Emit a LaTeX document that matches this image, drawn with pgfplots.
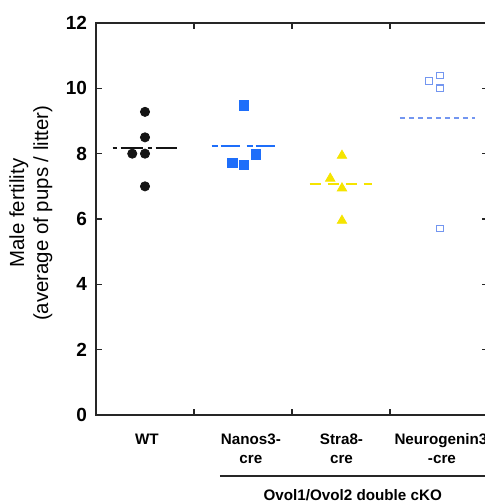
\documentclass[border=0pt]{standalone}
\usepackage{fontspec}
\setmainfont{Liberation Sans}
\usepackage{pgfplots}
\pgfplotsset{compat=1.18}

\definecolor{wtblack}{RGB}{20,20,20}
\definecolor{nanosblue}{RGB}{30,110,250}
\definecolor{strayellow}{RGB}{245,228,0}
\definecolor{ngnblue}{RGB}{115,150,240}

\newcommand{\catfont}{\fontsize{7.6}{9}\selectfont\bfseries}

\begin{document}
\begin{tikzpicture}
% 1 px of the reference = 0.5pt; axis box corner at px (96,415)
\useasboundingbox (-48pt,-44pt) rectangle (194.5pt,207.5pt);
\clip (-48pt,-44pt) rectangle (194.5pt,207.5pt);
\begin{axis}[
  at={(0,0)}, anchor=south west,
  width=196pt, height=196pt, scale only axis,
  xmin=0, xmax=4, ymin=0, ymax=12,
  xtick={1,2,3}, xticklabels={},
  ytick={0,2,...,12},
  tick align=inside,
  major tick length=3pt,
  axis line style={line width=0.75pt, black!85},
  every tick/.style={line width=0.75pt, black!85},
  tick label style={font=\fontsize{9.5}{11}\selectfont\bfseries},
  /pgf/number format/assume math mode=true,
  yticklabel style={xshift=-1pt},
  ylabel={Male fertility\\(average of pups / litter)},
  ylabel style={align=center, font=\fontsize{10.2}{12}\selectfont,
    at={(axis description cs:-0.166,0.515)}, anchor=center},
  clip=false,
]
% WT
\addplot[only marks, mark=*, mark size=2.3pt, color=wtblack]
  coordinates {(0.5,9.28) (0.5,8.5) (0.37,8.0) (0.5,8.0) (0.5,7.0)};
\addplot[wtblack, line width=1pt, dash pattern=on 2pt off 2pt on 11pt off 2.5pt]
  coordinates {(0.17,8.18) (0.83,8.18)};
% Nanos3-cre
\addplot[only marks, mark=square*, mark size=2.4pt, color=nanosblue]
  coordinates {(1.51,9.48) (1.39,7.72) (1.51,7.65) (1.63,7.98)};
\addplot[nanosblue, line width=1pt, dash pattern=on 3pt off 1.5pt on 9.5pt off 3.5pt]
  coordinates {(1.18,8.24) (1.83,8.24)};
% Stra8-cre
\addplot[only marks, mark=triangle*, mark size=2.7pt, color=strayellow]
  coordinates {(2.51,7.94) (2.39,7.24) (2.51,6.94) (2.51,5.95)};
\addplot[strayellow, line width=1pt, dash pattern=on 5.5pt off 3.5pt]
  coordinates {(2.18,7.08) (2.82,7.08)};
% Neurogenin3-cre
\addplot[only marks, mark=square, mark size=1.65pt, color=ngnblue, mark options={line width=0.6pt}]
  coordinates {(3.4,10.23) (3.51,10.39) (3.51,10.0) (3.51,5.71)};
\addplot[ngnblue, line width=0.6pt, dash pattern=on 2.5pt off 2pt]
  coordinates {(3.1,9.09) (3.87,9.09)};

% category labels
\node[anchor=base, font=\catfont] at (axis cs:0.52,-0.918) {WT};
\node[anchor=base, font=\catfont] at (axis cs:1.58,-0.918) {Nanos3-};
\node[anchor=base, font=\catfont] at (axis cs:1.58,-1.47) {cre};
\node[anchor=base, font=\catfont] at (axis cs:2.505,-0.918) {Stra8-};
\node[anchor=base, font=\catfont] at (axis cs:2.505,-1.47) {cre};
\node[anchor=base, font=\catfont] at (axis cs:3.52,-0.918) {Neurogenin3};
\node[anchor=base, font=\catfont] at (axis cs:3.53,-1.47) {-cre};
\draw[line width=0.75pt, black!85] (axis cs:1.265,-1.867) -- (axis cs:4.3,-1.867);
\node[anchor=base, font=\catfont] at (axis cs:2.62,-2.63) {Ovol1/Ovol2 double cKO};
\end{axis}
\end{tikzpicture}
\end{document}
